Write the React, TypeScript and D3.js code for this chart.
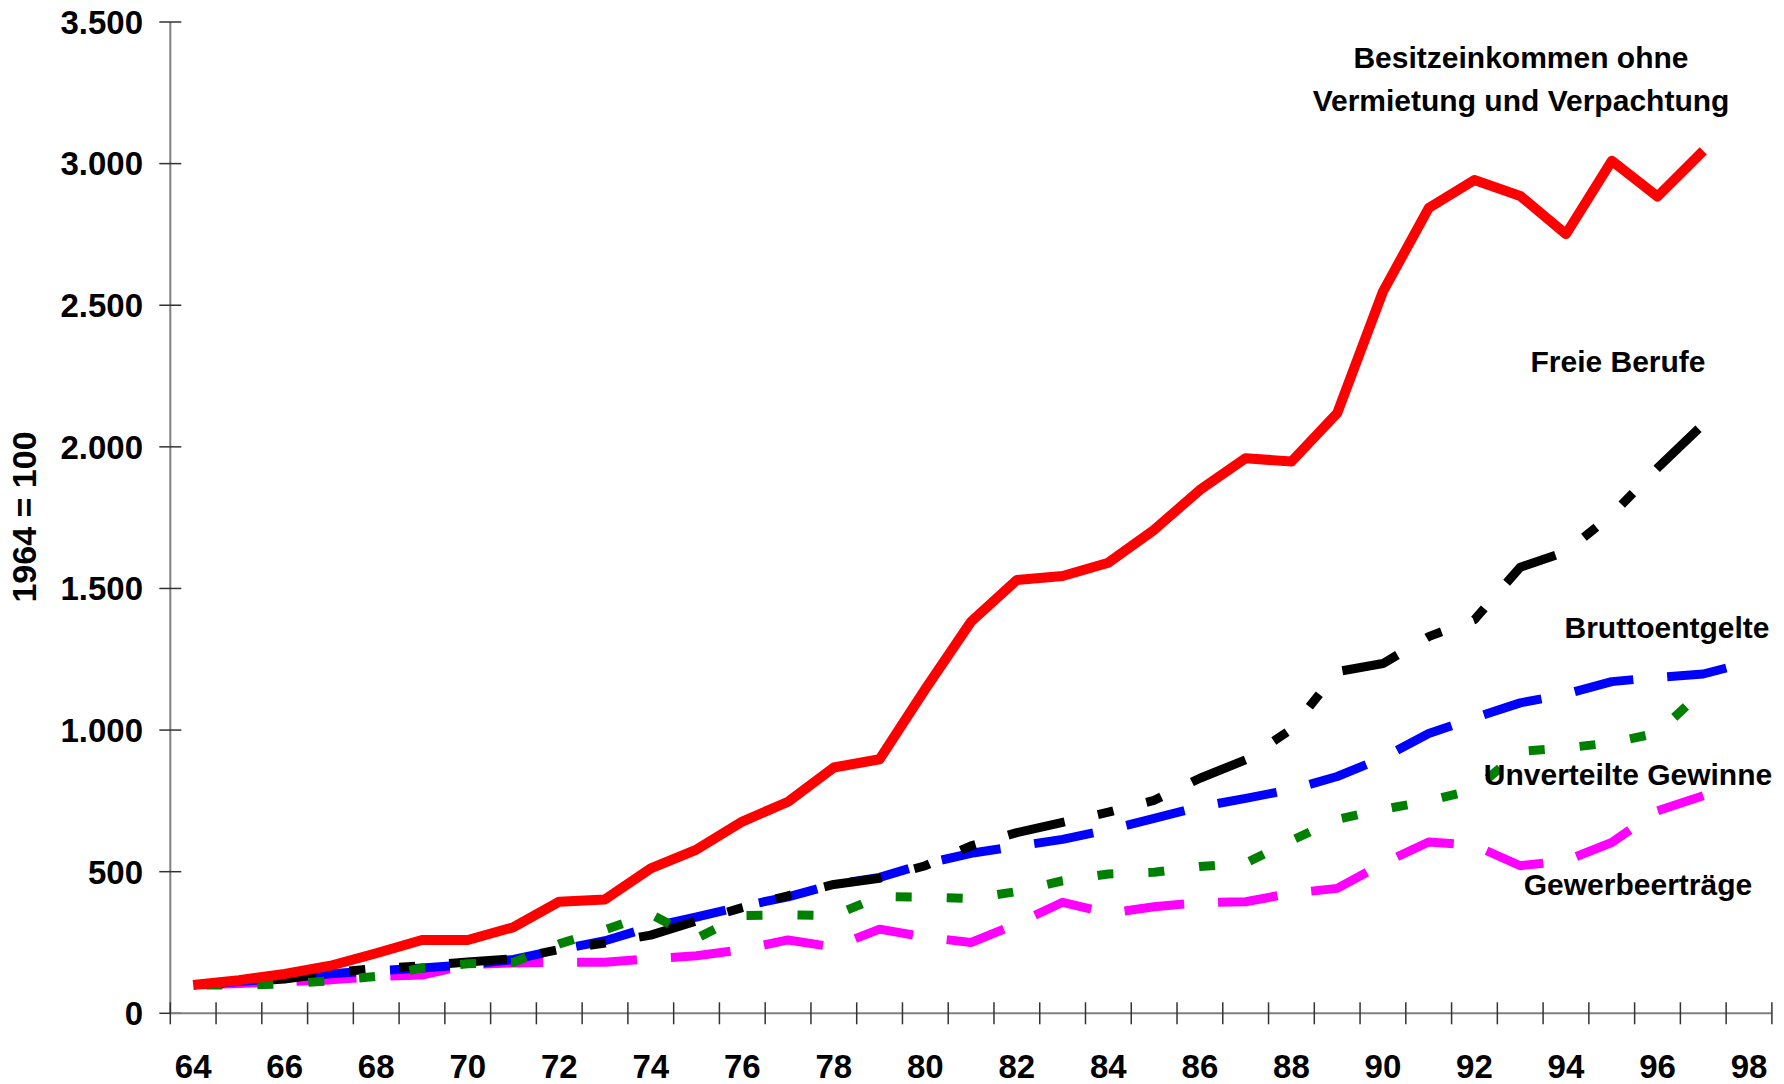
import React from 'react';
import * as d3 from 'd3';

// Jahre 1964–1998 (zweistellig beschriftet)
const years = [64, 65, 66, 67, 68, 69, 70, 71, 72, 73, 74, 75, 76, 77, 78, 79, 80, 81,
  82, 83, 84, 85, 86, 87, 88, 89, 90, 91, 92, 93, 94, 95, 96, 97, 98];
const xLabelYears = [64, 66, 68, 70, 72, 74, 76, 78, 80, 82, 84, 86, 88, 90, 92, 94, 96, 98];
const yTicks = [0, 500, 1000, 1500, 2000, 2500, 3000, 3500];

// Indexwerte, 1964 = 100
const besitzeinkommen = [100, 117, 139, 168, 212, 259, 259, 304, 394, 402, 512, 578, 677, 747,
  868, 897, 1145, 1383, 1530, 1544, 1591, 1707, 1848, 1960, 1948, 2119, 2548, 2843, 2942, 2886,
  2751, 3010, 2884, 3045];
const freieBerufe = [100, 110, 121, 143, 158, 168, 181, 193, 225, 248, 276, 326, 373, 415, 455,
  477, 521, 591, 638, 674, 710, 752, 830, 895, 1003, 1206, 1235, 1330, 1390, 1575, 1630, 1760,
  1925, 2080];
const bruttoentgelte = [100, 112, 125, 140, 150, 160, 172, 190, 225, 256, 305, 340, 378, 411,
  455, 480, 528, 565, 590, 614, 648, 688, 729, 759, 790, 836, 902, 988, 1043, 1096, 1127, 1171,
  1186, 1198, 1240];
const unverteilteGewinne = [100, 100, 103, 115, 130, 160, 175, 180, 245, 295, 350, 265, 345, 348,
  345, 412, 410, 405, 430, 468, 492, 498, 518, 530, 610, 685, 720, 750, 790, 925, 937, 955, 990,
  1140];
const gewerbeertraege = [100, 105, 112, 118, 130, 135, 172, 178, 180, 180, 193, 203, 225, 259,
  234, 297, 269, 250, 316, 392, 353, 376, 391, 394, 424, 441, 529, 605, 593, 521, 539, 603, 715,
  768];

const W = 1784;
const H = 1084;
const plot = { left: 170.3, right: 1771.9, top: 22, bottom: 1013.3 };
const FONT = '"Liberation Sans", Arial, sans-serif';

const de = d3.formatLocale({ decimal: ',', thousands: '.', grouping: [3], currency: ['', ' €'] });
const fmt = de.format(',d');

// Zeichenreihenfolge: unten zuerst. dashAt = x-Position, an der ein Strich beginnt.
const series = [
  { name: 'Gewerbeerträge', values: gewerbeertraege, color: '#FF00FF', width: 9, dash: [60, 34], dashAt: 946.7 },
  { name: 'Bruttoentgelte', values: bruttoentgelte, color: '#0000FF', width: 9, dash: [60, 34], dashAt: 941.7 },
  { name: 'Freie Berufe', values: freieBerufe, color: '#000000', width: 9, dash: [58, 34, 16, 34, 16, 34], dashAt: 1656.7 },
  { name: 'Unverteilte Gewinne', values: unverteilteGewinne, color: '#008000', width: 9, dash: [16, 35], dashAt: 946.7 },
  { name: 'Besitzeinkommen', values: besitzeinkommen, color: '#FF0000', width: 10, dash: null, dashAt: 0 },
];

const labels = [
  { lines: ['Besitzeinkommen ohne', 'Vermietung und Verpachtung'], x: 1521, y: 57 },
  { lines: ['Freie Berufe'], x: 1618, y: 361 },
  { lines: ['Bruttoentgelte'], x: 1667, y: 627 },
  { lines: ['Unverteilte Gewinne'], x: 1628, y: 774 },
  { lines: ['Gewerbeerträge'], x: 1638, y: 884 },
];

// Bogenlänge entlang des Polygonzugs bis zur x-Position xa
function lengthToX(pts: [number, number][], xa: number) {
  let acc = 0;
  for (let i = 1; i < pts.length; i++) {
    const [x0, y0] = pts[i - 1];
    const [x1, y1] = pts[i];
    const seg = Math.hypot(x1 - x0, y1 - y0);
    if (xa <= x1) {
      const t = Math.max(0, (xa - x0) / (x1 - x0));
      return acc + seg * t;
    }
    acc += seg;
  }
  return acc;
}

export default function App() {
  const x = d3.scaleBand<number>().domain(years).range([plot.left, plot.right]).paddingInner(0).paddingOuter(0);
  const y = d3.scaleLinear().domain([0, 3500]).range([plot.bottom, plot.top]);
  const cx = (yr: number) => (x(yr) as number) + x.bandwidth() / 2;

  const line = d3.line<[number, number]>();
  const boundaries = years.map((yr) => x(yr) as number).concat([plot.right]);

  return (
    <svg width={W} height={H} style={{ position: 'absolute', left: 0, top: 0, background: '#fff' }}
      fontFamily={FONT}>
      <rect x={0} y={0} width={W} height={H} fill="#fff" />

      {/* Y-Achse */}
      <line x1={plot.left} x2={plot.left} y1={y(3500)} y2={y(0)} stroke="#808080" strokeWidth={2} />
      {yTicks.map((t) => (
        <g key={t}>
          <line x1={plot.left - 11} x2={plot.left + 11} y1={y(t)} y2={y(t)} stroke="#333" strokeWidth={1.5} />
          <text x={143} y={y(t)} dy="0.36em" textAnchor="end" fontSize={33} fontWeight="bold" fill="#000">
            {fmt(t)}
          </text>
        </g>
      ))}
      <text transform={`translate(36,${517}) rotate(-90)`} textAnchor="middle" fontSize={34}
        fontWeight="bold" fill="#000">1964 = 100</text>

      {/* X-Achse */}
      <line x1={plot.left} x2={plot.right} y1={y(0)} y2={y(0)} stroke="#808080" strokeWidth={2} />
      {boundaries.map((bx, i) => (
        <line key={i} x1={bx} x2={bx} y1={y(0) - 11} y2={y(0) + 11} stroke="#333" strokeWidth={1.5} />
      ))}
      {xLabelYears.map((yr) => (
        <text key={yr} x={cx(yr)} y={1078} textAnchor="middle" fontSize={33} fontWeight="bold" fill="#000">
          {yr}
        </text>
      ))}

      {/* Datenreihen */}
      {series.map((s) => {
        const pts = s.values.map((v, i) => [cx(years[i]), y(v)] as [number, number]);
        let offset = 0;
        if (s.dash) {
          const period = s.dash.reduce((a, b) => a + b, 0);
          const L = lengthToX(pts, s.dashAt);
          offset = period - (L % period);
        }
        return (
          <path key={s.name} d={line(pts) || ''} fill="none" stroke={s.color}
            strokeWidth={s.width} strokeDasharray={s.dash ? s.dash.join(' ') : undefined}
            strokeDashoffset={s.dash ? offset : undefined}
            strokeLinejoin="round" strokeLinecap="butt" />
        );
      })}

      {/* Beschriftungen der Reihen */}
      {labels.map((l, i) => (
        <text key={i} x={l.x} y={l.y} textAnchor="middle" fontSize={30} fontWeight="bold" fill="#000">
          {l.lines.map((ln, j) => (
            <tspan key={j} x={l.x} y={l.y + j * 43} dy="0.36em">{ln}</tspan>
          ))}
        </text>
      ))}
    </svg>
  );
}
